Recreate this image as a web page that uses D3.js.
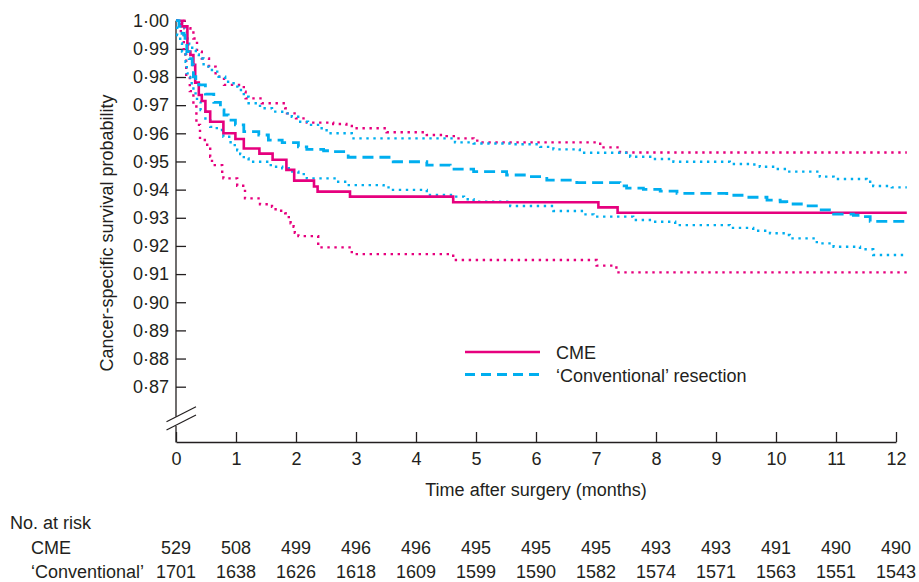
<!DOCTYPE html>
<html>
<head>
<meta charset="utf-8">
<script src="https://cdn.jsdelivr.net/npm/d3@7"></script>
<style>
  body { margin: 0; background: #fff; }
  text { font-family: "Liberation Sans", Arial, Helvetica, sans-serif; fill: #231f20; }
</style>
</head>
<body>
<svg width="919" height="582"></svg>
<script>
// Kaplan-Meier curves: [months, survival], value holds from t onwards
const cmeEst = [[0,1.0],[0.1,0.998],[0.19,0.989],[0.24,0.9878],[0.29,0.9843],[0.32,0.978],[0.38,0.9736],[0.43,0.9715],[0.49,0.9677],[0.57,0.9641],[0.79,0.96],[0.99,0.958],[1.13,0.9546],[1.39,0.9528],[1.61,0.9506],[1.84,0.947],[1.97,0.9432],[2.3,0.9411],[2.36,0.9393],[2.9,0.9375],[4.62,0.9355],[7.04,0.9337],[7.36,0.9318],[12.18,0.9318]];
const cmeLower = [[0,1.0],[0.08,0.995],[0.13,0.988],[0.17,0.98],[0.23,0.975],[0.29,0.9695],[0.34,0.963],[0.4,0.9576],[0.52,0.9552],[0.57,0.9517],[0.6,0.9487],[0.77,0.9458],[0.79,0.944],[1.02,0.9414],[1.15,0.9369],[1.4,0.9348],[1.6,0.9339],[1.66,0.9325],[1.82,0.9316],[1.88,0.9298],[1.91,0.928],[1.96,0.9268],[1.98,0.9247],[2.04,0.9235],[2.37,0.9195],[2.93,0.9171],[4.62,0.915],[7.01,0.913],[7.34,0.9106],[12.18,0.9106]];
const cmeUpper = [[0,1.0],[0.14,0.9973],[0.24,0.9967],[0.29,0.9937],[0.35,0.989],[0.43,0.9866],[0.55,0.9837],[0.66,0.9801],[0.8,0.9772],[1.13,0.9748],[1.16,0.9724],[1.43,0.9707],[1.82,0.9689],[1.85,0.9671],[2.0,0.9653],[2.18,0.9638],[2.62,0.9633],[2.84,0.9626],[2.93,0.9618],[3.51,0.9604],[4.18,0.9594],[4.51,0.959],[4.65,0.9582],[4.96,0.9574],[5.07,0.9568],[7.07,0.955],[7.4,0.9532],[12.18,0.9532]];

const convEst = [[0,1.0],[0.05,0.998],[0.1,0.9955],[0.13,0.995],[0.15,0.992],[0.18,0.989],[0.22,0.9865],[0.27,0.9843],[0.29,0.9801],[0.33,0.9785],[0.38,0.9772],[0.49,0.9739],[0.63,0.971],[0.74,0.9683],[0.8,0.9665],[0.87,0.9647],[0.99,0.963],[1.13,0.9606],[1.38,0.9594],[1.54,0.9576],[1.77,0.9567],[2.04,0.9552],[2.18,0.9543],[2.46,0.9538],[2.62,0.9535],[2.87,0.9515],[3.62,0.9499],[4.18,0.9487],[4.57,0.9473],[4.96,0.9464],[5.51,0.9452],[5.84,0.9446],[6.18,0.9434],[6.68,0.9425],[7.4,0.9413],[7.51,0.9405],[7.79,0.9401],[8.07,0.9395],[8.35,0.9387],[9.18,0.938],[9.51,0.9373],[9.85,0.9363],[10.07,0.9357],[10.18,0.9349],[10.51,0.9342],[10.73,0.9328],[10.96,0.9313],[11.29,0.9309],[11.46,0.9304],[11.57,0.9287],[12.18,0.9287]];
const convLower = [[0,1.0],[0.02,0.9949],[0.07,0.992],[0.1,0.989],[0.16,0.9854],[0.18,0.9813],[0.24,0.9778],[0.29,0.9742],[0.35,0.9712],[0.41,0.9683],[0.49,0.9647],[0.57,0.9623],[0.68,0.9612],[0.79,0.9588],[0.91,0.9558],[1.02,0.954],[1.07,0.9526],[1.13,0.9511],[1.21,0.9499],[1.52,0.9487],[1.6,0.9481],[1.77,0.9476],[1.88,0.9464],[2.04,0.9455],[2.18,0.944],[2.68,0.9428],[2.84,0.9416],[3.46,0.9408],[3.57,0.9399],[4.18,0.9381],[4.62,0.9375],[4.8,0.9366],[4.96,0.9357],[5.57,0.9342],[6.29,0.9324],[6.79,0.9312],[6.96,0.9304],[7.62,0.9292],[7.96,0.9286],[8.32,0.9274],[9.23,0.9264],[9.62,0.9254],[9.9,0.9245],[10.18,0.9239],[10.23,0.9227],[10.68,0.9209],[10.96,0.9197],[11.4,0.9188],[11.62,0.9168],[12.13,0.9162]];
const convUpper = [[0,1.0],[0.1,0.9985],[0.14,0.996],[0.18,0.9937],[0.22,0.9915],[0.27,0.9896],[0.33,0.988],[0.38,0.9866],[0.46,0.9837],[0.55,0.9825],[0.63,0.9819],[0.71,0.9801],[0.82,0.9783],[0.96,0.9766],[1.04,0.9754],[1.13,0.973],[1.21,0.9707],[1.4,0.9689],[1.6,0.9677],[1.77,0.9671],[1.93,0.9659],[2.07,0.9641],[2.2,0.963],[2.4,0.9618],[2.51,0.96],[2.93,0.9582],[4.65,0.9568],[4.96,0.9564],[5.62,0.9561],[6.07,0.9552],[6.29,0.9543],[6.73,0.9531],[7.57,0.9517],[7.96,0.9509],[8.29,0.9499],[9.23,0.9491],[9.57,0.9489],[9.73,0.9481],[10.01,0.9473],[10.18,0.9464],[10.73,0.9446],[10.96,0.9438],[11.51,0.9428],[11.62,0.9413],[11.93,0.9408],[12.18,0.9408]];

const xTicks = d3.range(0, 13);
const yTicks = [1.00,0.99,0.98,0.97,0.96,0.95,0.94,0.93,0.92,0.91,0.90,0.89,0.88,0.87];
const riskCME = [529,508,499,496,496,495,495,495,493,493,491,490,490];
const riskConv = [1701,1638,1626,1618,1609,1599,1590,1582,1574,1571,1563,1551,1543];

const pink = '#e6007e';
const cyan = '#00aeef';
const ink = '#231f20';

const svg = d3.select('svg');

const render = () => {
    const x = d3.scaleLinear().domain([0, 12]).range([176, 896]);
    const y = d3.scaleLinear().domain([0.87, 1.0]).range([386.7, 20.7]);
    const axisY = 442;

    // y axis, ticks point inwards, domain drawn by hand because of the break
    const yAxis = d3.axisLeft(y)
        .tickValues(yTicks)
        .tickSize(-10)
        .tickPadding(7)
        .tickFormat(d => d3.format('.2f')(d).replace('.', '\u00b7'));
    const gy = svg.append('g').attr('transform', `translate(${x(0)},0)`).call(yAxis);
    gy.select('.domain').remove();
    gy.selectAll('line').attr('stroke', ink).attr('stroke-width', 1.3);
    gy.selectAll('text').attr('font-size', 18).attr('fill', ink);

    const xAxis = d3.axisBottom(x)
        .tickValues(xTicks)
        .tickSize(-10)
        .tickSizeOuter(0)
        .tickPadding(10);
    const gx = svg.append('g').attr('transform', `translate(0,${axisY})`).call(xAxis);
    gx.select('.domain').attr('stroke', ink).attr('stroke-width', 1.3);
    gx.selectAll('line').attr('stroke', ink).attr('stroke-width', 1.3);
    gx.selectAll('text').attr('font-size', 18).attr('fill', ink);

    // vertical axis line with the break
    const x0 = x(0);
    svg.append('line').attr('x1', x0).attr('x2', x0).attr('y1', y(1.0)).attr('y2', 416.8)
        .attr('stroke', ink).attr('stroke-width', 1.3);
    svg.append('line').attr('x1', x0).attr('x2', x0).attr('y1', 425.9).attr('y2', axisY + 0.6)
        .attr('stroke', ink).attr('stroke-width', 1.3);
    [[421.7, 406.7], [430, 415]].forEach(([a, b]) => {
        svg.append('line').attr('x1', x0 - 9.5).attr('y1', a).attr('x2', x0 + 20).attr('y2', b)
            .attr('stroke', ink).attr('stroke-width', 1.2);
    });

    const line = d3.line()
        .x(d => x(d[0]))
        .y(d => y(d[1]))
        .curve(d3.curveStepAfter);

    const series = [
        {data: cmeLower, color: pink, dash: '2.4,4.6', w: 2.4},
        {data: cmeUpper, color: pink, dash: '2.4,4.6', w: 2.4},
        {data: convLower, color: cyan, dash: '2.4,4.6', w: 2.4},
        {data: convUpper, color: cyan, dash: '2.4,4.6', w: 2.4},
        {data: cmeEst, color: pink, dash: null, w: 2.6},
        {data: convEst, color: cyan, dash: '11,6', w: 2.8}
    ];

    svg.append('g').selectAll('path').data(series)
        .enter().append('path')
        .attr('d', d => line(d.data))
        .attr('fill', 'none')
        .attr('stroke', d => d.color)
        .attr('stroke-width', d => d.w)
        .attr('stroke-dasharray', d => d.dash);

    // legend
    const legend = svg.append('g');
    legend.append('line').attr('x1', 465).attr('x2', 540).attr('y1', 352).attr('y2', 352)
        .attr('stroke', pink).attr('stroke-width', 2.6);
    legend.append('line').attr('x1', 465).attr('x2', 540).attr('y1', 374.5).attr('y2', 374.5)
        .attr('stroke', cyan).attr('stroke-width', 2.8).attr('stroke-dasharray', '10,6');
    legend.append('text').attr('x', 556).attr('y', 358.5).attr('font-size', 18).text('CME');
    legend.append('text').attr('x', 556).attr('y', 381.5).attr('font-size', 18).text('\u2018Conventional\u2019 resection');

    // axis titles
    svg.append('text')
        .attr('x', (x(0) + x(12)) / 2)
        .attr('y', 496)
        .attr('text-anchor', 'middle')
        .attr('font-size', 18)
        .text('Time after surgery (months)');

    svg.append('text')
        .attr('transform', `translate(113,${233}) rotate(-90)`)
        .attr('text-anchor', 'middle')
        .attr('font-size', 18)
        .text('Cancer-specific survival probability');

    // numbers at risk
    const rowY = [528.5, 554, 577.5];
    svg.append('text').attr('x', 10).attr('y', rowY[0]).attr('font-size', 18).text('No. at risk');
    svg.append('text').attr('x', 31).attr('y', rowY[1]).attr('font-size', 18).text('CME');
    svg.append('text').attr('x', 31).attr('y', rowY[2]).attr('font-size', 18).text('\u2018Conventional\u2019');

    svg.append('g').selectAll('text').data(riskCME)
        .enter().append('text')
        .attr('x', (d, i) => x(xTicks[i]))
        .attr('y', rowY[1])
        .attr('text-anchor', 'middle')
        .attr('font-size', 18)
        .text(d => d);

    svg.append('g').selectAll('text').data(riskConv)
        .enter().append('text')
        .attr('x', (d, i) => x(xTicks[i]))
        .attr('y', rowY[2])
        .attr('text-anchor', 'middle')
        .attr('font-size', 18)
        .text(d => d);
};

render();
</script>
</body>
</html>
